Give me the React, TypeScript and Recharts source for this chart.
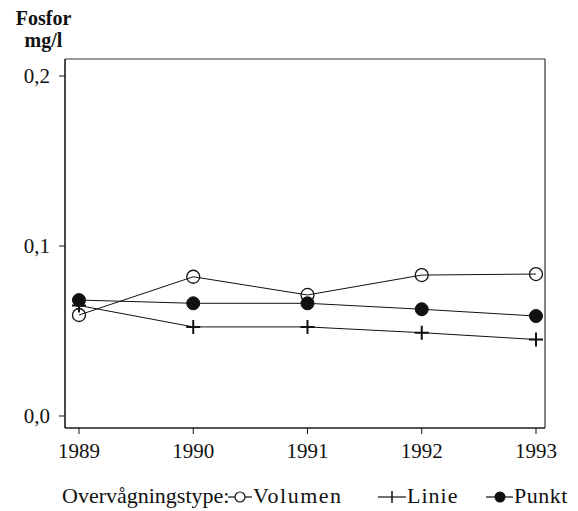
import { LineChart, Line, XAxis, YAxis, Legend, CartesianGrid } from 'recharts';

const years = [1989, 1990, 1991, 1992, 1993];
const volumen = [0.0594, 0.0819, 0.0712, 0.0829, 0.0835];
const linie = [0.065, 0.0524, 0.0524, 0.049, 0.045];
const punkt = [0.0682, 0.0663, 0.0663, 0.0628, 0.0588];
const yTicks = [0, 0.1, 0.2];

const data = years.map((year, i) => ({
  year,
  volumen: volumen[i],
  linie: linie[i],
  punkt: punkt[i],
}));

const FONT = '"Liberation Serif", "DejaVu Serif", serif';

// plot frame (pixels) follows from the chart margins below
const FRAME_TOP = 59;
const FRAME_BOTTOM = 428;
const FRAME_LEFT = 65;
const FRAME_RIGHT = 545;

const OpenDot = (props: any) => {
  const { cx, cy } = props;
  if (cx == null || cy == null) return null;
  return <circle cx={cx} cy={cy} r={6.5} fill="none" stroke="#111" strokeWidth={1.3} />;
};

const PlusDot = (props: any) => {
  const { cx, cy } = props;
  if (cx == null || cy == null) return null;
  return (
    <path
      d={`M${cx - 7},${cy}H${cx + 7}M${cx},${cy - 7}V${cy + 7}`}
      stroke="#111"
      strokeWidth={2}
      fill="none"
    />
  );
};

const FilledDot = (props: any) => {
  const { cx, cy } = props;
  if (cx == null || cy == null) return null;
  return <circle cx={cx} cy={cy} r={6.5} fill="#111" stroke="#111" />;
};

const LegendContent = () => (
  <svg width={578} height={32} style={{ display: 'block' }}>
    <g fontFamily={FONT} fontSize={22} fill="#111">
      <text x={62} y={23}>Overvågningstype:</text>
      <line x1={228} x2={252} y1={17} y2={17} stroke="#111" strokeWidth={1.2} />
      <circle cx={240} cy={17} r={5} fill="#fff" stroke="#111" strokeWidth={1.2} />
      <text x={253} y={23} letterSpacing={1.5}>Volumen</text>
      <line x1={378} x2={406} y1={17} y2={17} stroke="#111" strokeWidth={1.2} />
      <path d="M392,11V23" stroke="#111" strokeWidth={1.5} />
      <text x={407} y={23} letterSpacing={1}>Linie</text>
      <line x1={486} x2={513} y1={17} y2={17} stroke="#111" strokeWidth={1.2} />
      <circle cx={500} cy={17} r={5.5} fill="#111" />
      <text x={514} y={23} letterSpacing={0.5}>Punkt</text>
    </g>
  </svg>
);

export default function App() {
  return (
    <div style={{ position: 'absolute', left: 0, top: 0, width: 578, height: 511, background: '#fff' }}>
      <div
        style={{
          position: 'absolute',
          left: 0,
          width: 87,
          top: 7,
          textAlign: 'center',
          fontFamily: FONT,
          fontWeight: 'bold',
          fontSize: 20,
          lineHeight: '22px',
          color: '#111',
        }}
      >
        <div>Fosfor</div>
        <div>mg/l</div>
      </div>
      <LineChart width={578} height={511} data={data} margin={{ top: FRAME_TOP, right: 578 - FRAME_RIGHT, bottom: 53, left: 0 }}>
        <CartesianGrid
          horizontalPoints={[FRAME_TOP, FRAME_BOTTOM]}
          verticalPoints={[FRAME_LEFT, FRAME_RIGHT]}
          stroke="#333"
          strokeWidth={1.2}
        />
        <XAxis
          dataKey="year"
          type="number"
          domain={[1988.8775, 1993.0788]}
          allowDataOverflow
          ticks={years}
          height={30}
          tickSize={6}
          tickMargin={9}
          stroke="#111"
          tick={{ fill: '#111', fontFamily: FONT, fontSize: 21 }}
        />
        <YAxis
          type="number"
          domain={[-0.00706, 0.21]}
          allowDataOverflow
          ticks={yTicks}
          width={FRAME_LEFT}
          tickSize={6}
          tickMargin={9}
          stroke="#111"
          tickFormatter={(v: number) => v.toFixed(1).replace('.', ',')}
          tick={{ fill: '#111', fontFamily: FONT, fontSize: 21 }}
        />
        <Legend
          verticalAlign="middle"
          align="center"
          layout="horizontal"
          content={LegendContent}
          wrapperStyle={{ left: 0, top: 480, width: 578, height: 32 }}
        />
        <Line
          dataKey="volumen"
          stroke="#111"
          strokeWidth={1}
          dot={OpenDot}
          activeDot={false}
          isAnimationActive={false}
        />
        <Line
          dataKey="linie"
          stroke="#111"
          strokeWidth={1}
          dot={PlusDot}
          activeDot={false}
          isAnimationActive={false}
        />
        <Line
          dataKey="punkt"
          stroke="#111"
          strokeWidth={1}
          dot={FilledDot}
          activeDot={false}
          isAnimationActive={false}
        />
      </LineChart>
    </div>
  );
}
